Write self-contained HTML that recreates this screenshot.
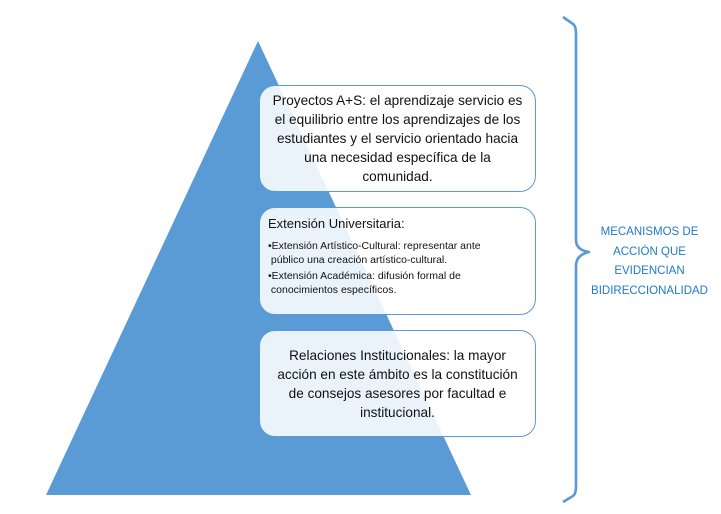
<!DOCTYPE html>
<html><head><meta charset="utf-8"><style>
body{margin:0;width:721px;height:514px;background:#fff;position:relative;overflow:hidden;font-family:"Liberation Sans",sans-serif;}
.box{position:absolute;left:259px;width:277px;border:1.3px solid #5b9bd5;border-radius:16px;background:rgba(255,255,255,0.88);box-sizing:border-box;color:#111;}
.c{text-align:center;font-size:13.6px;line-height:19px;display:flex;align-items:center;justify-content:center;padding:0 4px;white-space:nowrap;}
</style></head><body>
<svg width="721" height="514" style="position:absolute;left:0;top:0">
<polygon points="258,41 46,495 471,495" fill="#5b9bd5"/>
<path d="M563,17 L573,24 Q576,26 576,34 L576,240 Q576,250 589,252 Q576,255 576,266 L576,486 Q576,494 573,496 L563,502" fill="none" stroke="#5b9bd5" stroke-width="2.6" stroke-linejoin="round"/>
</svg>
<div class="box c" style="top:85px;height:107px;"><div>Proyectos A+S: el aprendizaje servicio es<br>el equilibrio entre los aprendizajes de los<br>estudiantes y el servicio orientado hacia<br>una necesidad específica de la<br>comunidad.</div></div>
<div class="box" style="top:207px;height:108px;padding:6px 8px;">
<div style="font-size:13px;line-height:18px;margin-top:1px">Extensión Universitaria:</div>
<div style="font-size:10.5px;line-height:13.5px;margin-top:7px">•Extensión Artístico-Cultural: representar ante<br>&nbsp;público una creación artístico-cultural.</div>
<div style="font-size:10.5px;line-height:13.5px;margin-top:3px">•Extensión Académica: difusión formal de<br>&nbsp;conocimientos específicos.</div>
</div>
<div class="box c" style="top:330px;height:107px;"><div>Relaciones Institucionales: la mayor<br>acción en este ámbito es la constitución<br>de consejos asesores por facultad e<br>institucional.</div></div>
<div style="position:absolute;left:578px;top:223px;width:143px;text-align:center;color:#1f7ac8;font-size:11.5px;line-height:19.5px;">MECANISMOS DE<br>ACCIÓN QUE<br>EVIDENCIAN<br>BIDIRECCIONALIDAD</div>
</body></html>
